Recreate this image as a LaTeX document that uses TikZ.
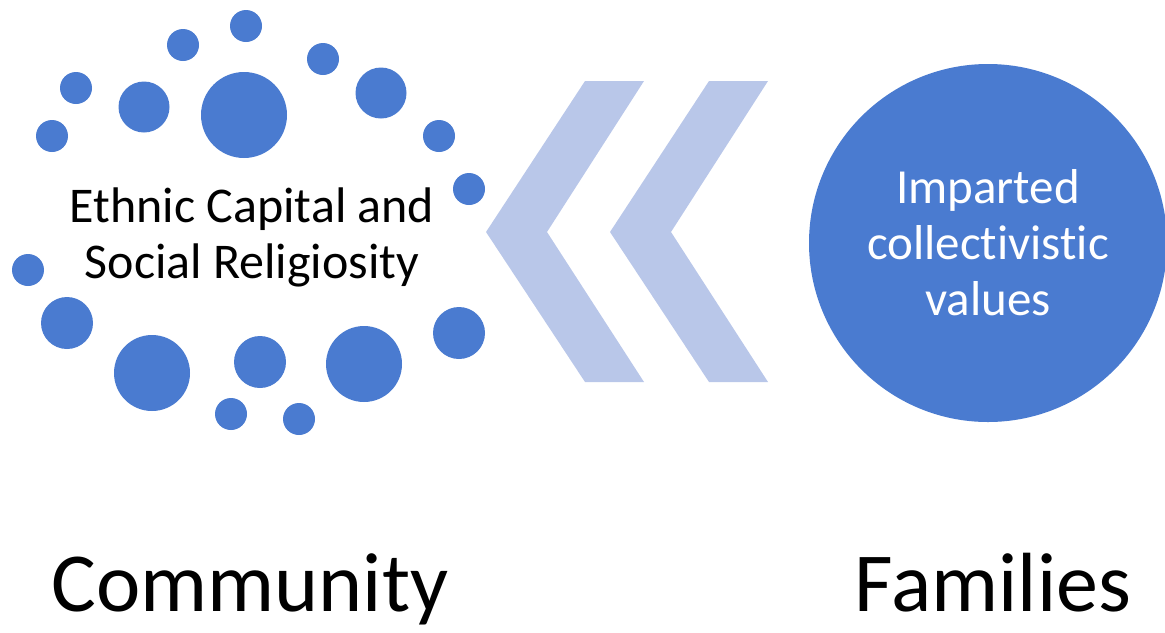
\documentclass[tikz,border=0pt]{standalone}
\usepackage{fontspec}
\setmainfont{Carlito}[Ligatures=NoCommon]
\usetikzlibrary{positioning}
\definecolor{dotblue}{RGB}{74,123,208}
\definecolor{chevblue}{RGB}{185,199,233}
\tikzset{
  dot/.style={fill=dotblue},
  chevron/.style={fill=chevblue},
  heading/.style={anchor=base,inner sep=0pt,font=\fontsize{42}{50}\selectfont},
}

\begin{document}
\begin{tikzpicture}[x=0.5pt,y=-0.5pt]
\useasboundingbox (0,0) rectangle (1165,632);
% Ring of dots round the community label: x/y/radius
\foreach \x/\y/\r in {246/26/16, 183/45/16, 323/59/16, 76/88/16,
                      144/107/25.5, 244/115/43, 381/93/25.5,
                      52/136/16, 439/136/16, 469/189/16, 28/270/16,
                      67/323/26, 459/333/26, 152/373/38, 260/362/26,
                      364/364/38, 231/414/16, 299/419/16}
  \fill[dot] (\x,\y) circle[radius=\r];
% Community label inside the ring
\node[align=center,font=\fontsize{25}{28}\selectfont] (comm) at (252,237)
  {Ethnic Capital and\\Social Religiosity};
% Two chevrons pointing left, second one shifted right
\foreach \s in {0,124}
  \fill[chevron,xshift=\s*0.5pt] (585,81) -- (644,81) -- (547,232)
    -- (644,382) -- (585,382) -- (486,232) -- cycle;
% Families circle
\node[circle,fill=dotblue,minimum size=179pt,inner sep=0pt,text=white,
  align=center,font=\fontsize{24.5}{28}\selectfont] (fam) at (988,243)
  {Imparted\\collectivistic\\values};
% Headings under each part
\node[heading] (commhead) at (250,611) {Community};
\node[heading] (famhead) at (993,611) {Families};
\end{tikzpicture}
\end{document}
